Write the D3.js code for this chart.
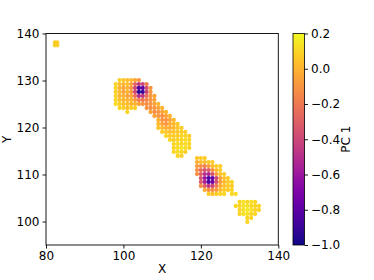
<!DOCTYPE html>
<html>
<head>
<meta charset="utf-8">
<script src="https://cdn.jsdelivr.net/npm/d3@7"></script>
<style>
  body { margin: 0; background: #fff; }
  svg { display: block; }
  text { font-family: "DejaVu Sans", sans-serif; fill: #000; }
</style>
</head>
<body>
<svg id="chart" width="374" height="280"></svg>
<script>
// axis ticks
var xTicks = [80, 100, 120, 140];
var yTicks = [100, 110, 120, 130, 140];
var cTicks = [0.2, 0.0, -0.2, -0.4, -0.6, -0.8, -1.0];

// rows of the grid: [y, first x, PC 1 values left to right]
var outlier = [
  [138.1, 82.3, [0.08, 0.08]],
  [137.5, 82.3, [0.08, 0.08]]
];

var clusterA = [
  [130.1, 99, [0.08, 0.06, 0.03, 0.02, -0.05, -0.1]],
  [129.25, 98, [0.1, 0.04, 0.0, 0.04, -0.06, -0.28, -0.45, -0.4, -0.18]],
  [128.4, 98, [0.1, 0.0, -0.04, 0.0, -0.1, -0.4, -0.85, -0.8, -0.35, -0.1]],
  [127.55, 98, [0.08, 0.02, -0.06, 0.0, -0.1, -0.4, -0.95, -0.9, -0.4, -0.1]],
  [126.7, 98, [0.1, 0.0, 0.0, -0.06, -0.04, -0.22, -0.5, -0.45, -0.22, -0.1, -0.05]],
  [125.85, 98, [0.1, 0.04, 0.0, 0.0, 0.0, -0.08, -0.18, -0.2, -0.15, -0.1, -0.05]],
  [125.0, 98, [0.12, 0.08, 0.04, 0.04, 0.0, 0.0, -0.06, -0.1, -0.12, -0.1, -0.05, 0.0]],
  [124.15, 99, [0.1, 0.08, 0.04, 0.08, 0.08]],
  [124.15, 106, [-0.1, -0.12, -0.1, -0.05, 0.0]],
  [123.3, 101, [0.1]],
  [123.3, 107, [-0.05, -0.12, -0.1, -0.05, 0.0]],
  [122.45, 108, [-0.05, -0.1, -0.12, -0.05, 0.0]],
  [121.6, 109, [0.0, -0.1, -0.1, -0.05, 0.02]],
  [120.75, 109, [0.02, -0.05, -0.1, -0.02, 0.02, 0.05]],
  [119.9, 109, [0.05, 0.02, -0.02, -0.02, 0.02, 0.05, 0.07]],
  [119.05, 110, [0.08, 0.05, 0.03, 0.05, 0.05, 0.08, 0.08]],
  [118.2, 111, [0.1, 0.07, 0.07, 0.07, 0.1, 0.1, 0.07]],
  [117.35, 112, [0.1, 0.08, 0.1, 0.1, 0.12, 0.1]],
  [116.5, 113, [0.1, 0.12, 0.1, 0.12, 0.1]],
  [115.65, 113, [0.1, 0.12, 0.14, 0.12, 0.1]],
  [114.8, 113, [0.1, 0.12, 0.1, 0.08]],
  [113.95, 114, [0.1, 0.08]]
];

var clusterB = [
  [113.5, 119, [0.05, 0.07, 0.07]],
  [112.65, 119, [-0.02, 0.03, 0.03, 0.07, 0.07]],
  [111.8, 119, [-0.08, -0.12, -0.18, -0.08, 0.02, 0.07, 0.07]],
  [110.95, 119, [-0.12, -0.25, -0.35, -0.3, -0.12, 0.02, 0.07]],
  [110.1, 119, [-0.12, -0.3, -0.5, -0.55, -0.35, -0.08, 0.04, 0.07]],
  [109.25, 120, [-0.35, -0.6, -0.85, -0.8, -0.4, -0.08, 0.04, 0.07]],
  [108.4, 120, [-0.3, -0.55, -0.85, -0.75, -0.35, -0.08, 0.02, 0.07, 0.1]],
  [107.55, 120, [-0.12, -0.3, -0.45, -0.4, -0.18, -0.02, 0.04, 0.07, 0.07]],
  [106.7, 121, [-0.02, -0.12, -0.12, -0.08, 0.02, 0.07, 0.07, 0.1]],
  [105.85, 122, [0.07, 0.04, 0.07, 0.1, 0.1]],
  [105.85, 128, [0.1, 0.12]]
];

var clusterC = [
  [104.15, 130, [0.1, 0.13, 0.1, 0.13, 0.1]],
  [103.3, 129, [0.1, 0.1, 0.13, 0.13, 0.1, 0.1, 0.1]],
  [102.45, 130, [0.1, 0.13, 0.15, 0.13, 0.1, 0.1]],
  [101.6, 130, [0.1, 0.13, 0.13, 0.1, 0.1]],
  [100.75, 132, [0.1, 0.1]],
  [99.9, 132, [0.1]]
];

var svg = d3.select("#chart");
var plotL = 46, plotR = 278.3, plotT = 33.5, plotB = 245;

var x = d3.scaleLinear().domain([80, 140]).range([plotL, plotR]);
var y = d3.scaleLinear().domain([95, 140]).range([plotB, plotT]);
var color = d3.scaleSequential(d3.interpolatePlasma).domain([-1, 0.2]);

// flatten rows into points (the outlier dots sit closer together)
var points = [];
[outlier, clusterA, clusterB, clusterC].forEach(function(rows) {
  var step = rows === outlier ? 0.6 : 1;
  rows.forEach(function(row) {
    row[2].forEach(function(v, i) {
      points.push({x: row[1] + i * step, y: row[0], v: v});
    });
  });
});

svg.append("g").selectAll("circle")
  .data(points).enter().append("circle")
  .attr("cx", function(d) { return x(d.x); })
  .attr("cy", function(d) { return y(d.y); })
  .attr("r", 2.15)
  .attr("fill", function(d) { return color(d.v); });

// axes
var xAxis = svg.append("g")
  .attr("transform", "translate(0," + plotB + ")")
  .call(d3.axisBottom(x).tickValues(xTicks).tickSize(3.5).tickPadding(3).tickSizeOuter(0).tickFormat(d3.format("d")));
var yAxis = svg.append("g")
  .attr("transform", "translate(" + plotL + ",0)")
  .call(d3.axisLeft(y).tickValues(yTicks).tickSize(3.5).tickPadding(3).tickSizeOuter(0).tickFormat(d3.format("d")));

[xAxis, yAxis].forEach(function(g) {
  g.select(".domain").remove();
  g.selectAll("line").attr("stroke", "#000").attr("stroke-width", 0.9);
  g.selectAll("text").attr("font-size", 12).attr("font-family", "DejaVu Sans").attr("fill", "#000");
});

svg.append("rect")
  .attr("x", plotL).attr("y", plotT)
  .attr("width", plotR - plotL).attr("height", plotB - plotT)
  .attr("fill", "none").attr("stroke", "#000").attr("stroke-width", 0.9);

svg.append("text").attr("x", (plotL + plotR) / 2).attr("y", 273)
  .attr("text-anchor", "middle").attr("font-size", 12).text("X");
svg.append("text").attr("transform", "translate(11," + ((plotT + plotB) / 2) + ") rotate(-90)")
  .attr("text-anchor", "middle").attr("font-size", 12).text("Y");

// colorbar
var cbLeft = 293, cbWidth = 11.5;
var cScale = d3.scaleLinear().domain([-1, 0.2]).range([plotB, plotT]);

var grad = svg.append("defs").append("linearGradient")
  .attr("id", "plasma").attr("x1", 0).attr("y1", 1).attr("x2", 0).attr("y2", 0);
d3.range(0, 1.0001, 0.05).forEach(function(t) {
  grad.append("stop").attr("offset", t).attr("stop-color", d3.interpolatePlasma(t));
});

svg.append("rect")
  .attr("x", cbLeft).attr("y", plotT)
  .attr("width", cbWidth).attr("height", plotB - plotT)
  .attr("fill", "url(#plasma)")
  .attr("stroke", "#000").attr("stroke-width", 0.8);

var cAxis = svg.append("g")
  .attr("transform", "translate(" + (cbLeft + cbWidth) + ",0)")
  .call(d3.axisRight(cScale).tickValues(cTicks).tickSize(3.5).tickPadding(3).tickSizeOuter(0).tickFormat(d3.format(".1f")));
cAxis.select(".domain").remove();
cAxis.selectAll("line").attr("stroke", "#000").attr("stroke-width", 0.9);
cAxis.selectAll("text").attr("font-size", 12).attr("font-family", "DejaVu Sans").attr("fill", "#000");

svg.append("text").attr("transform", "translate(350," + ((plotT + plotB) / 2) + ") rotate(-90)")
  .attr("text-anchor", "middle").attr("font-size", 12).text("PC 1");
</script>
</body>
</html>
